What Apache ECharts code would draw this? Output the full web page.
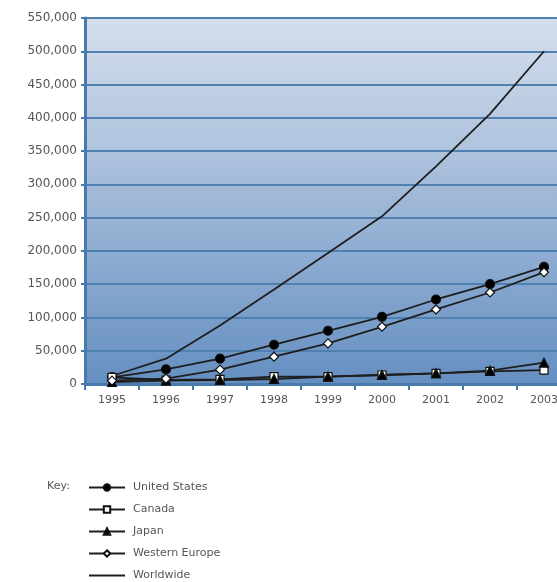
<!DOCTYPE html>
<html>
<head>
<meta charset="utf-8">
<script src="https://cdn.jsdelivr.net/npm/echarts@6/dist/echarts.min.js"></script>
<style>html,body{margin:0;padding:0;background:#fff}#c{width:557px;height:582px}</style>
</head>
<body>
<div id="c"></div>
<script>
var years = ['1995','1996','1997','1998','1999','2000','2001','2002','2003'];
var unitedStates = [10000, 22000, 38000, 59000, 80000, 101000, 127000, 150000, 176000];
var canada = [10000, 6000, 7000, 11000, 11000, 13500, 16000, 19000, 21000];
var japan = [3000, 5000, 6000, 7500, 11000, 13500, 16000, 20000, 32000];
var westernEurope = [5000, 8000, 21500, 41000, 61000, 86000, 112000, 137500, 168000];
var worldwide = [12000, 38000, 88000, 142000, 197000, 252000, 327000, 406000, 500000];
var yTicks = [0, 50000, 100000, 150000, 200000, 250000, 300000, 350000, 400000, 450000, 500000, 550000];
var seriesNames = ['United States', 'Canada', 'Japan', 'Western Europe', 'Worldwide'];

var chart = echarts.init(document.getElementById('c'), null, {renderer: 'canvas'});
var lineStyle = {color: '#1e1e1e', width: 1.8};
function mk(name, data, symbol, fill, size) {
  return {
    name: name, type: 'line', data: data,
    symbol: symbol, symbolSize: size, showSymbol: symbol !== 'none',
    lineStyle: lineStyle,
    itemStyle: {color: fill, borderColor: '#111', borderWidth: 1.2},
    z: 3
  };
}
chart.setOption({
  animation: false,
  grid: {
    left: 85, top: 18, width: 486, height: 366,
    outerBoundsMode: 'none', containLabel: false,
    show: true, borderWidth: 0,
    backgroundColor: new echarts.graphic.LinearGradient(0, 0, 0, 1, [
      {offset: 0, color: '#d4dfed'},
      {offset: 0.35, color: '#b0c4de'},
      {offset: 1, color: '#658fc1'}
    ])
  },
  xAxis: {
    type: 'category', data: years, boundaryGap: true,
    axisLine: {lineStyle: {color: '#4a7aab', width: 3}},
    axisTick: {show: true, length: 6, lineStyle: {color: '#4a7aab', width: 2}},
    axisLabel: {color: '#555', fontFamily: 'DejaVu Sans', fontSize: 11, margin: 11},
    splitLine: {show: false}
  },
  yAxis: {
    type: 'value', min: yTicks[0], max: yTicks[yTicks.length - 1], interval: 50000,
    axisLine: {show: true, lineStyle: {color: '#4a7aab', width: 3}},
    axisTick: {show: true, length: 4, lineStyle: {color: '#4a7aab', width: 2}},
    axisLabel: {
      color: '#555', fontFamily: 'DejaVu Sans', fontSize: 12, margin: 8,
      formatter: function (v) { return v.toLocaleString('en-US'); }
    },
    splitLine: {show: true, lineStyle: {color: '#4f80b0', width: 2}}
  },
  legend: {
    orient: 'vertical', left: 88, top: 481, height: 200, padding: 0,
    itemWidth: 36, itemHeight: 8, itemGap: 9,
    textStyle: {color: '#555', fontFamily: 'DejaVu Sans', fontSize: 11, lineHeight: 13, padding: [0, 0, 0, 3]},
    data: seriesNames.map(function (n, i) {
      return i === 4 ? {name: n, itemStyle: {opacity: 0}} : {name: n};
    })
  },
  graphic: [{
    type: 'text', left: 47, top: 481,
    style: {text: 'Key:', fill: '#555', font: '11px "DejaVu Sans"'}
  }],
  series: [
    mk(seriesNames[0], unitedStates, 'circle', '#000', 9),
    mk(seriesNames[1], canada, 'rect', '#fff', 8),
    mk(seriesNames[2], japan, 'triangle', '#000', 9),
    mk(seriesNames[3], westernEurope, 'diamond', '#fff', 9),
    mk(seriesNames[4], worldwide, 'none', '#222', 0)
  ]
});
</script>
</body>
</html>
